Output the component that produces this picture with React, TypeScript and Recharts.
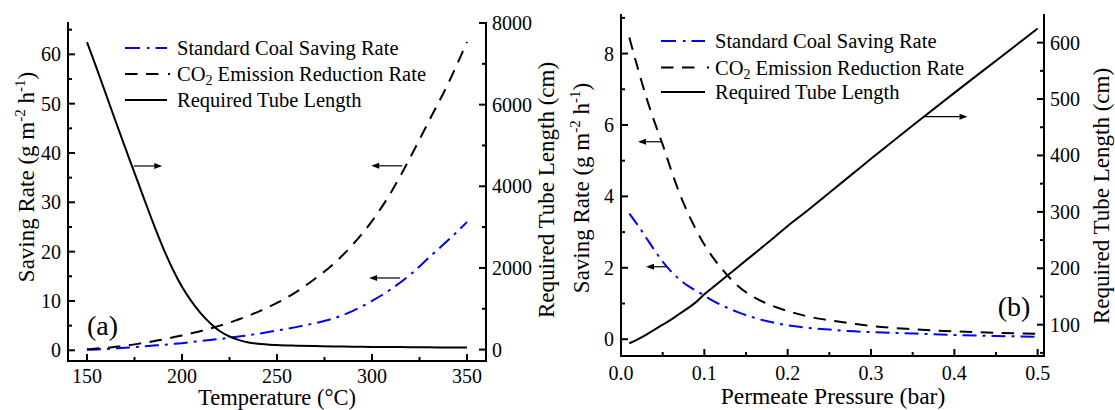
import React from 'react';
import { LineChart, Line, XAxis, YAxis, ReferenceLine } from 'recharts';

const FONT = '"Liberation Serif", "Times New Roman", Times, serif';

// ---------- Panel (a): temperature ----------
const temperatures = [150, 155, 160, 165, 170, 175, 180, 185, 190, 195, 200, 205, 210, 215, 220, 225, 230, 235, 240, 250, 260, 270, 280, 290, 300, 310, 320, 330, 340, 350];
const coalRateA = [0.1, 0.17, 0.25, 0.37, 0.5, 0.65, 0.8, 0.95, 1.1, 1.27, 1.45, 1.67, 1.9, 2.1, 2.3, 2.55, 2.8, 3.05, 3.35, 4.0, 4.7, 5.5, 6.5, 8.0, 10.0, 12.4, 15.3, 18.8, 22.3, 26.0];
const co2RateA = [0.2, 0.35, 0.5, 0.7, 0.9, 1.2, 1.5, 1.85, 2.2, 2.6, 3.0, 3.45, 3.9, 4.45, 5.0, 5.6, 6.3, 7.0, 7.8, 9.6, 11.8, 14.5, 17.6, 21.5, 26.2, 32.0, 39.0, 46.5, 54.0, 62.5];
const tubeLengthA = [7530, 6900, 6250, 5600, 4960, 4330, 3700, 3080, 2500, 1980, 1540, 1180, 880, 640, 450, 320, 232, 175, 142, 110, 95, 85, 78, 72, 66, 62, 58, 55, 52, 50];

const tempTicks = [150, 175, 200, 225, 250, 275, 300, 325, 350];
const tempLabels = [150, 200, 250, 300, 350];
const savingTicksA = [0, 5, 10, 15, 20, 25, 30, 35, 40, 45, 50, 55, 60, 65];
const savingLabelsA = [0, 10, 20, 30, 40, 50, 60];
const tubeTicksA = [0, 1000, 2000, 3000, 4000, 5000, 6000, 7000, 8000];
const tubeLabelsA = [0, 2000, 4000, 6000, 8000];

// annotation arrows (tail -> head), data coordinates
const arrowsA = [
  { axis: 'right', x1: 174.6, y1: 4497, x2: 189.6, y2: 4497 },
  { axis: 'left', x1: 315.9, y1: 37.4, x2: 299.6, y2: 37.4 },
  { axis: 'left', x1: 314.8, y1: 14.66, x2: 298.5, y2: 14.66 },
];

// ---------- Panel (b): permeate pressure ----------
const pressures = [0.01, 0.02, 0.03, 0.04, 0.05, 0.06, 0.07, 0.08, 0.09, 0.10, 0.11, 0.12, 0.14, 0.16, 0.18, 0.20, 0.22, 0.25, 0.28, 0.30, 0.35, 0.40, 0.45, 0.50];
const coalRateB = [3.52, 3.2, 2.85, 2.5, 2.17, 1.9, 1.68, 1.5, 1.36, 1.22, 1.08, 0.96, 0.76, 0.6, 0.48, 0.39, 0.33, 0.27, 0.22, 0.2, 0.16, 0.12, 0.09, 0.07];
const co2RateB = [8.45, 7.6, 6.8, 6.1, 5.45, 4.75, 4.1, 3.55, 3.07, 2.65, 2.3, 2.0, 1.5, 1.17, 0.95, 0.79, 0.66, 0.53, 0.43, 0.37, 0.28, 0.22, 0.18, 0.15];
const tubeLengthB = [67, 74, 82, 91, 100, 109, 119, 129, 140, 154, 166, 178, 202, 226, 250, 275, 298, 334, 370, 394, 453, 511, 568, 625];

const pressureTicks = [0, 0.05, 0.1, 0.15, 0.2, 0.25, 0.3, 0.35, 0.4, 0.45, 0.5];
const pressureLabels = [0, 0.1, 0.2, 0.3, 0.4, 0.5];
const savingTicksB = [0, 1, 2, 3, 4, 5, 6, 7, 8, 9];
const savingLabelsB = [0, 2, 4, 6, 8];
const tubeTicksB = [50, 100, 150, 200, 250, 300, 350, 400, 450, 500, 550, 600];
const tubeLabelsB = [100, 200, 300, 400, 500, 600];

const arrowsB = [
  { axis: 'left', x1: 0.0485, y1: 5.53, x2: 0.0204, y2: 5.53 },
  { axis: 'left', x1: 0.054, y1: 2.03, x2: 0.03, y2: 2.03 },
  { axis: 'right', x1: 0.3624, y1: 468.8, x2: 0.4158, y2: 468.8 },
];

const dataA = temperatures.map((t, i) => ({ t, coal: coalRateA[i], co2: co2RateA[i], tube: tubeLengthA[i] }));
const dataB = pressures.map((p, i) => ({ p, coal: coalRateB[i], co2: co2RateB[i], tube: tubeLengthB[i] }));

const near = (list: number[], v: number) => list.some((l) => Math.abs(l - v) < 1e-9);

const makeTick = (side: string, labels: number[], fmt: (v: number) => string, off = 24) => (props: any) => {
  const { x, y, payload } = props;
  const v = payload.value;
  const major = near(labels, v);
  const len = major ? 7 : 4;
  const common = { stroke: '#000', strokeWidth: 2 };
  let line: any = null;
  let text: any = null;
  const tp = { fontFamily: FONT, fontSize: 20, fill: '#000' } as any;
  if (side === 'bottom') {
    line = <line x1={x} y1={y} x2={x} y2={y - len} {...common} />;
    if (major) text = <text x={x} y={y + off} textAnchor="middle" {...tp}>{fmt(v)}</text>;
  } else if (side === 'top') {
    line = <line x1={x} y1={y} x2={x} y2={y + len} {...common} />;
  } else if (side === 'left') {
    line = <line x1={x} y1={y} x2={x + len} y2={y} {...common} />;
    if (major) text = <text x={x - 7} y={y + 7} textAnchor="end" {...tp}>{fmt(v)}</text>;
  } else {
    line = <line x1={x} y1={y} x2={x - len} y2={y} {...common} />;
    if (major) text = <text x={x + 6} y={y + 7} textAnchor="start" {...tp}>{fmt(v)}</text>;
  }
  return (
    <g>
      {line}
      {text}
    </g>
  );
};

const arrowShape = (props: any) => {
  const { x1, y1, x2, y2 } = props;
  const dx = x2 - x1;
  const dy = y2 - y1;
  const L = Math.hypot(dx, dy) || 1;
  const ux = dx / L;
  const uy = dy / L;
  const hl = 8;
  const hw = 3;
  const bx = x2 - ux * hl;
  const by = y2 - uy * hl;
  return (
    <g>
      <line x1={x1} y1={y1} x2={bx} y2={by} stroke="#000" strokeWidth={1.2} />
      <polygon points={`${x2},${y2} ${bx - uy * hw},${by + ux * hw} ${bx + uy * hw},${by - ux * hw}`} fill="#000" />
    </g>
  );
};

const axisLine = { stroke: '#000', strokeWidth: 2, strokeLinecap: 'square' } as any;

const intFmt = (v: number) => String(v);
const oneDec = (v: number) => v.toFixed(1);

const BLUE = '#0000ff';
const DASHDOT = '14 6 3 6';
const DASH = '12.5 8.5';

function ChartA() {
  return (
    <LineChart width={557} height={410} data={dataA} margin={{ top: 23, right: 0, bottom: 0, left: 0 }}>
      <XAxis dataKey="t" type="number" domain={[140, 360]} allowDataOverflow ticks={tempTicks} interval={0} height={49}
        tickSize={0} tickMargin={0} tickLine={false} axisLine={axisLine} tick={makeTick('bottom', tempLabels, intFmt, 21.5)} />
      <XAxis xAxisId="top" orientation="top" dataKey="t" type="number" domain={[140, 360]} allowDataOverflow ticks={tempTicks} interval={0} height={0}
        tickSize={0} tickMargin={0} tickLine={false} axisLine={axisLine} tick={makeTick('top', tempLabels, intFmt)} />
      <YAxis yAxisId="left" orientation="left" type="number" domain={[-2.17, 66.35]} allowDataOverflow ticks={savingTicksA} interval={0} width={68}
        tickSize={0} tickMargin={0} tickLine={false} axisLine={axisLine} tick={makeTick('left', savingLabelsA, intFmt)} />
      <YAxis yAxisId="right" orientation="right" type="number" domain={[-280, 8000]} allowDataOverflow ticks={tubeTicksA} interval={0} width={71}
        tickSize={0} tickMargin={0} tickLine={false} axisLine={axisLine} tick={makeTick('right', tubeLabelsA, intFmt)} />
      <Line yAxisId="left" type="monotone" dataKey="coal" stroke={BLUE} strokeWidth={2} strokeDasharray={DASHDOT} dot={false} isAnimationActive={false} />
      <Line yAxisId="left" type="monotone" dataKey="co2" stroke="#000" strokeWidth={2} strokeDasharray={DASH} dot={false} isAnimationActive={false} />
      <Line yAxisId="right" type="monotone" dataKey="tube" stroke="#000" strokeWidth={2} dot={false} isAnimationActive={false} />
      {arrowsA.map((a, i) => (
        <ReferenceLine key={i} yAxisId={a.axis} ifOverflow="visible" segment={[{ x: a.x1, y: a.y1 }, { x: a.x2, y: a.y2 }]} shape={arrowShape} />
      ))}
    </LineChart>
  );
}

function ChartB() {
  return (
    <LineChart width={558} height={410} data={dataB} margin={{ top: 15, right: 0, bottom: 0, left: 0 }}>
      <XAxis dataKey="p" type="number" domain={[0, 0.5076]} allowDataOverflow ticks={pressureTicks} interval={0} height={54}
        tickSize={0} tickMargin={0} tickLine={false} axisLine={axisLine} tick={makeTick('bottom', pressureLabels, oneDec)} />
      <XAxis xAxisId="top" orientation="top" dataKey="p" type="number" domain={[0, 0.5076]} allowDataOverflow ticks={pressureTicks} interval={0} height={0}
        tickSize={0} tickMargin={0} tickLine={false} axisLine={axisLine} tick={makeTick('top', pressureLabels, oneDec)} />
      <YAxis yAxisId="left" orientation="left" type="number" domain={[-0.47, 9.08]} allowDataOverflow ticks={savingTicksB} interval={0} width={64}
        tickSize={0} tickMargin={0} tickLine={false} axisLine={axisLine} tick={makeTick('left', savingLabelsB, intFmt)} />
      <YAxis yAxisId="right" orientation="right" type="number" domain={[44.5, 649]} allowDataOverflow ticks={tubeTicksB} interval={0} width={71}
        tickSize={0} tickMargin={0} tickLine={false} axisLine={axisLine} tick={makeTick('right', tubeLabelsB, intFmt)} />
      <Line yAxisId="left" type="monotone" dataKey="coal" stroke={BLUE} strokeWidth={2} strokeDasharray={DASHDOT} dot={false} isAnimationActive={false} />
      <Line yAxisId="left" type="monotone" dataKey="co2" stroke="#000" strokeWidth={2} strokeDasharray={DASH} dot={false} isAnimationActive={false} />
      <Line yAxisId="right" type="monotone" dataKey="tube" stroke="#000" strokeWidth={2} dot={false} isAnimationActive={false} />
      {arrowsB.map((a, i) => (
        <ReferenceLine key={i} yAxisId={a.axis} ifOverflow="visible" segment={[{ x: a.x1, y: a.y1 }, { x: a.x2, y: a.y2 }]} shape={arrowShape} />
      ))}
    </LineChart>
  );
}

const legendNames = ['Standard Coal Saving Rate', 'Emission Reduction Rate', 'Required Tube Length'];

function Legend({ x0, x1, dotX, textX, rows }: { x0: number; x1: number; dotX: number; textX: number; rows: number[] }) {
  const tp = { fontFamily: FONT, fontSize: 20.5, fill: '#000' } as any;
  return (
    <g>
      <line x1={x0} y1={rows[0]} x2={x1} y2={rows[0]} stroke={BLUE} strokeWidth={2} strokeDasharray="15 7 2.5 6" />
      <text x={textX} y={rows[0] + 7} {...tp}>{legendNames[0]}</text>
      <line x1={x0} y1={rows[1]} x2={x0 + 34} y2={rows[1]} stroke="#000" strokeWidth={2} strokeDasharray={DASH} />
      <line x1={dotX} y1={rows[1]} x2={dotX + 2} y2={rows[1]} stroke="#000" strokeWidth={2} />
      <text x={textX} y={rows[1] + 7} {...tp}>
        CO<tspan dy={4} fontSize={14}>2</tspan>
        <tspan dy={-4}>{' ' + legendNames[1]}</tspan>
      </text>
      <line x1={x0} y1={rows[2]} x2={x1} y2={rows[2]} stroke="#000" strokeWidth={2} />
      <text x={textX} y={rows[2] + 7} {...tp}>{legendNames[2]}</text>
    </g>
  );
}

function SavingTitle({ x, y }: { x: number; y: number }) {
  return (
    <text transform={`translate(${x},${y}) rotate(-90)`} textAnchor="middle" fontFamily={FONT} fontSize={23} fill="#000">
      Saving Rate (g m<tspan dy={-9} fontSize={15}>-2</tspan>
      <tspan dy={9}> h</tspan>
      <tspan dy={-9} fontSize={15}>-1</tspan>
      <tspan dy={9}>)</tspan>
    </text>
  );
}

function TubeTitle({ x, y }: { x: number; y: number }) {
  return (
    <text transform={`translate(${x},${y}) rotate(-90)`} textAnchor="middle" fontFamily={FONT} fontSize={23} fill="#000">
      Required Tube Length (cm)
    </text>
  );
}

export default function App() {
  return (
    <div style={{ position: 'absolute', left: 0, top: 0, width: 1115, height: 410, background: '#fff', overflow: 'hidden' }}>
      <div style={{ position: 'absolute', left: 0, top: 0 }}>
        <ChartA />
      </div>
      <div style={{ position: 'absolute', left: 557, top: 0 }}>
        <ChartB />
      </div>
      <svg width={1115} height={410} style={{ position: 'absolute', left: 0, top: 0, pointerEvents: 'none' }}>
        <SavingTitle x={34} y={177} />
        <TubeTitle x={554} y={190} />
        <SavingTitle x={589} y={188} />
        <TubeTitle x={1109} y={196} />
        <text x={277} y={405.3} textAnchor="middle" fontFamily={FONT} fontSize={22.5} fill="#000">Temperature (°C)</text>
        <text x={833} y={404} textAnchor="middle" fontFamily={FONT} fontSize={23.5} fill="#000">Permeate Pressure (bar)</text>
        <text x={102.5} y={335} textAnchor="middle" fontFamily={FONT} fontSize={28} fill="#000">(a)</text>
        <text x={1014} y={316} textAnchor="middle" fontFamily={FONT} fontSize={28} fill="#000">(b)</text>
        <Legend x0={125} x1={167} dotX={168} textX={177} rows={[48, 74, 100]} />
        <Legend x0={661} x1={705} dotX={707} textX={715} rows={[41, 67.5, 92]} />
      </svg>
    </div>
  );
}
